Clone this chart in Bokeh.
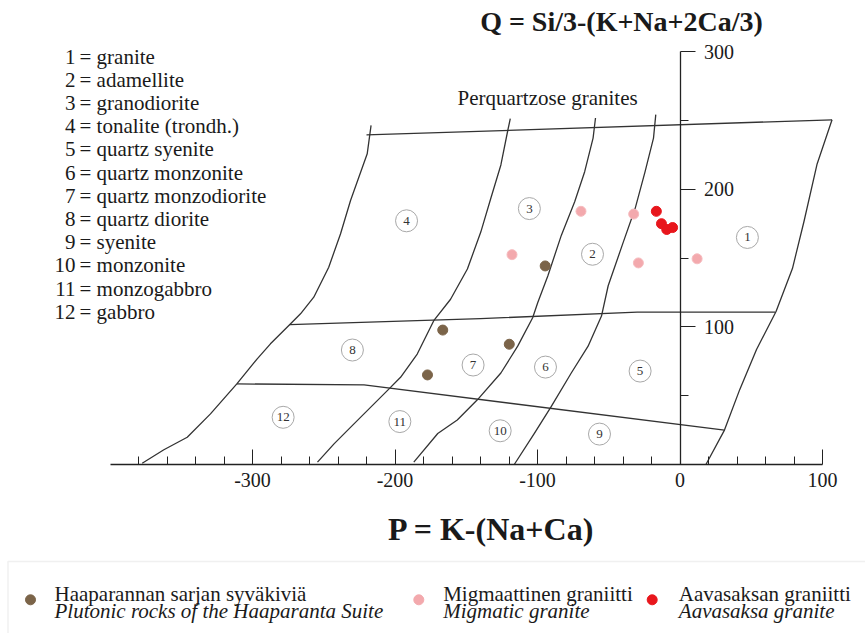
from bokeh.plotting import figure
from bokeh.models import Range1d, FixedTicker, BoxAnnotation, CustomJSTickFormatter
from bokeh.core.properties import value
from bokeh.embed import file_html
from bokeh.resources import INLINE

# ---------------- data ----------------
region_ids = ["1", "2", "3", "4", "5", "6", "7", "8", "9", "10", "11", "12"]
region_names = ["granite", "adamellite", "granodiorite", "tonalite (trondh.)",
                "quartz syenite", "quartz monzonite", "quartz monzodiorite",
                "quartz diorite", "syenite", "monzonite", "monzogabbro", "gabbro"]
region_label_p = [47.3, -61.4, -105.7, -191.9, -28.0, -94.4, -145.2, -229.9, -56.5, -126.2, -196.6, -278.5]
region_label_q = [165.0, 152.8, 186.0, 177.1, 67.9, 70.8, 72.3, 83.2, 22.1, 24.5, 31.2, 34.3]

# field boundaries (P, Q)
curve1_p = [-216.8, -219.5, -231.2, -238.2, -246.5, -257.0, -266.3, -273.8, -287.4, -296.7, -311.0, -329.5, -345.8, -362.2, -377.4]
curve1_q = [246.4, 225.8, 191.9, 167.7, 143.4, 121.6, 109.5, 101.7, 87.7, 76.8, 58.6, 36.8, 19.8, 10.7, 0.9]
curve2_p = [-119.1, -121.0, -125.7, -132.8, -139.8, -149.2, -161.0, -172.8, -184.4, -196.1, -205.4, -228.8, -242.8, -254.4]
curve2_q = [251.4, 242.0, 217.7, 193.3, 168.9, 142.1, 120.1, 104.5, 80.3, 63.4, 53.7, 29.5, 15.0, 1.7]
curve3_p = [-59.3, -61.0, -66.9, -73.9, -83.3, -92.7, -99.8, -103.4, -113.9, -125.7, -142.2, -156.3, -170.0, -186.8]
curve3_q = [251.8, 237.2, 212.8, 190.9, 166.5, 137.2, 117.7, 106.7, 86.0, 66.5, 47.0, 32.3, 22.5, 1.7]
curve4_p = [-17.0, -18.6, -24.5, -31.5, -39.8, -50.4, -55.1, -64.5, -76.3, -90.4, -102.2, -116.3]
curve4_q = [254.3, 237.2, 212.8, 186.0, 161.6, 129.9, 107.9, 86.0, 66.5, 42.1, 22.6, 0.0]
right_p = [106.7, 96.1, 87.0, 78.9, 67.4, 53.7, 41.9, 31.2, 18.2]
right_q = [250.5, 218.0, 176.6, 142.4, 111.2, 83.6, 54.4, 25.0, 0.0]
top_p = [-220.0, 106.7]
top_q = [239.5, 250.5]
middle_p = [-273.8, -140.0, -30.0, 67.0]
middle_q = [101.7, 106.0, 110.8, 110.8]
lower_p = [-311.0, -221.7, 31.2]
lower_q = [58.6, 57.8, 25.0]

# samples
haap_p = [-166.5, -177.2, -94.6, -119.8]
haap_q = [97.7, 65.1, 144.3, 87.4]
migm_p = [-69.5, -32.5, -117.9, -29.2, 12.0]
migm_q = [184.0, 182.0, 152.5, 146.5, 149.5]
aava_p = [-16.6, -13.0, -9.3, -5.2]
aava_q = [184.0, 175.0, 170.8, 172.2]

x_ticks = [-300, -200, -100, 0, 100]
x_minor = [v for v in range(-380, 100, 20) if v % 100 != 0]
y_ticks = [100, 200, 300]
y_minor = [50, 150, 250]

series_fi = ["Haaparannan sarjan syväkiviä", "Migmaattinen graniitti", "Aavasaksan graniitti"]
series_en = ["Plutonic rocks of the Haaparanta Suite", "Migmatic granite", "Aavasaksa granite"]
series_colors = ["#7b6449", "#f3a9ad", "#e8161c"]

# ---------------- layout helpers (pixel -> data) ----------------
W, H = 865, 633
X0, SX = 679.5, 1.425
Y0, SY = 464.0, 1.376


def dx(px):
    return (px - X0) / SX


def dy(py):
    return (Y0 - py) / SY


FONT = value("Liberation Serif")
INK = "#1a1a1a"

p = figure(width=W, height=H, output_backend="svg", toolbar_location=None,
           x_range=Range1d(dx(0), dx(W)), y_range=Range1d(dy(H), dy(0)),
           min_border=0, y_axis_location="right")
p.grid.visible = False
p.outline_line_color = None
p.background_fill_color = "white"
p.border_fill_color = "white"

plain_fmt = CustomJSTickFormatter(code="return String(tick);")

# axes
xa = p.xaxis[0]
xa.fixed_location = 0
xa.bounds = (-400, 100)
xa.ticker = FixedTicker(ticks=x_ticks, minor_ticks=x_minor)
xa.formatter = plain_fmt
xa.major_tick_in = 15
xa.major_tick_out = 0
xa.minor_tick_in = 8
xa.minor_tick_out = 0
xa.major_label_standoff = 8
xa.axis_line_color = "#222222"
xa.major_tick_line_color = "#222222"
xa.minor_tick_line_color = "#222222"
xa.axis_line_width = 1.3
xa.major_label_text_font = "Liberation Serif"
xa.major_label_text_font_size = "20px"
xa.major_label_text_color = INK

ya = p.yaxis[0]
ya.fixed_location = 0
ya.bounds = (0, 300)
ya.ticker = FixedTicker(ticks=y_ticks, minor_ticks=y_minor)
ya.formatter = plain_fmt
ya.major_tick_in = 0
ya.major_tick_out = 15
ya.minor_tick_in = 0
ya.minor_tick_out = 8
ya.major_label_standoff = 9
ya.axis_line_color = "#222222"
ya.major_tick_line_color = "#222222"
ya.minor_tick_line_color = "#222222"
ya.axis_line_width = 1.3
ya.major_label_text_font = "Liberation Serif"
ya.major_label_text_font_size = "20px"
ya.major_label_text_color = INK
ya.major_label_orientation = "horizontal"

# field boundaries
for xs, ys in [(curve1_p, curve1_q), (curve2_p, curve2_q), (curve3_p, curve3_q),
               (curve4_p, curve4_q), (right_p, right_q), (top_p, top_q),
               (middle_p, middle_q), (lower_p, lower_q)]:
    p.line(xs, ys, line_color="#333333", line_width=1.3, line_join="round")

# region labels
p.scatter(region_label_p, region_label_q, marker="circle", size=22,
          fill_color="white", line_color="#a8a8a8", line_width=1)
p.text(region_label_p, region_label_q, text=region_ids, text_font=FONT,
       text_font_size="13px", text_align="center", text_baseline="middle",
       text_color="#333333")

# samples
p.scatter(haap_p, haap_q, size=10, fill_color=series_colors[0], line_color=series_colors[0])
p.scatter(migm_p, migm_q, size=10, fill_color=series_colors[1], line_color="#f6bcbf")
p.scatter(aava_p, aava_q, size=10, fill_color=series_colors[2], line_color=series_colors[2])

# titles
p.text([dx(621)], [dy(21)], text=["Q = Si/3-(K+Na+2Ca/3)"], text_font=FONT,
       text_font_size="28px", text_font_style="bold", text_align="center",
       text_baseline="alphabetic", text_color=INK)
p.text([dx(491)], [dy(528)], text=["P = K-(Na+Ca)"], text_font=FONT,
       text_font_size="32px", text_font_style="bold", text_align="center",
       text_baseline="alphabetic", text_color=INK)
p.text([dx(457)], [dy(97)], text=["Perquartzose granites"], text_font=FONT,
       text_font_size="21px", text_align="left", text_baseline="alphabetic",
       text_color=INK)

# list of field names
n = len(region_ids)
list_y = [dy(56 + 23.2 * i) for i in range(n)]
p.text([dx(75)] * n, list_y, text=region_ids, text_font=FONT, text_font_size="21px",
       text_align="right", text_baseline="alphabetic", text_color=INK)
p.text([dx(79)] * n, list_y, text=["= " + s for s in region_names], text_font=FONT,
       text_font_size="21px", text_align="left", text_baseline="alphabetic",
       text_color=INK)

# legend
p.add_layout(BoxAnnotation(left=dx(7.5), right=dx(W + 20), top=dy(561), bottom=dy(H + 20),
                           fill_alpha=0, line_color="#cccccc", line_width=1.5))
dot_px = [30, 418.3, 651.7]
txt_px = [54, 442.7, 678.3]
p.scatter([dx(v) for v in dot_px], [dy(599.3)] * 3, size=10,
          fill_color=series_colors, line_color=series_colors)
p.text([dx(v) for v in txt_px], [dy(593.7)] * 3, text=series_fi, text_font=FONT,
       text_font_size="21px", text_align="left", text_baseline="alphabetic",
       text_color=INK)
p.text([dx(v) for v in txt_px], [dy(610.3)] * 3, text=series_en, text_font=FONT,
       text_font_size="21px", text_font_style="italic", text_align="left",
       text_baseline="alphabetic", text_color=INK)

open("out.html", "w").write(file_html(p, INLINE))
